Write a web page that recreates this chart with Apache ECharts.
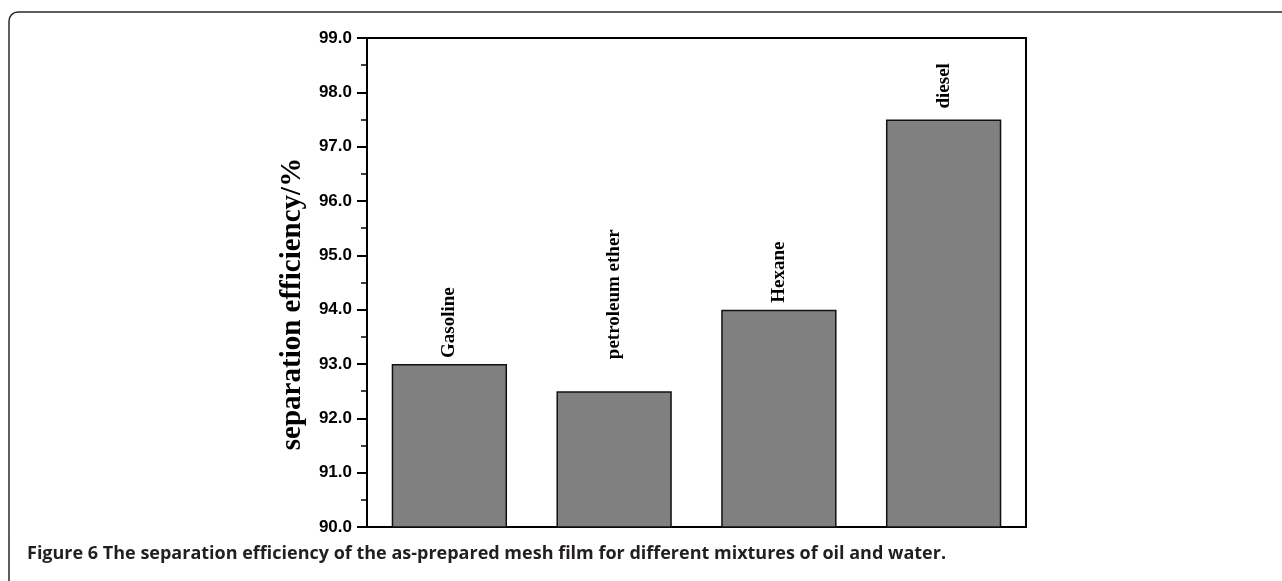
<!DOCTYPE html>
<html>
<head>
<meta charset="utf-8">
<script src="https://cdn.jsdelivr.net/npm/echarts@6/dist/echarts.min.js"></script>
<style>html,body{margin:0;padding:0;background:#fff}#c{width:1282px;height:581px}</style>
</head>
<body>
<div id="c"></div>
<script>
const categories = ['Gasoline', 'petroleum ether', 'Hexane', 'diesel'];
const efficiency = [93.0, 92.5, 94.0, 97.5];
const yMin = 90, yMax = 99, yStep = 1;
const yTitle = 'separation efficiency/%';
const captionBold = 'Figure 6';
const captionText = ' The separation efficiency of the as-prepared mesh film for different mixtures of oil and water.';
// label gaps above each bar (style, not data)
const labelGaps = [6, 32, 7, 11];

const chart = echarts.init(document.getElementById('c'));
chart.setOption({
  backgroundColor: '#fff',
  animation: false,
  grid: { left: 367, right: 256, top: 38, bottom: 54, show: true, borderColor: '#000', borderWidth: 2, backgroundColor: 'transparent' },
  xAxis: {
    type: 'category', data: categories,
    axisLine: { lineStyle: { color: '#000', width: 2 } },
    axisTick: { alignWithLabel: true, length: 10, lineStyle: { color: '#000', width: 2 } },
    axisLabel: { show: false },
    splitLine: { show: false }
  },
  yAxis: {
    type: 'value', min: yMin, max: yMax, interval: yStep,
    axisLine: { show: true, lineStyle: { color: '#000', width: 2 } },
    axisTick: { show: true, length: 10, lineStyle: { color: '#000', width: 2 } },
    minorTick: { show: true, splitNumber: 2, length: 6, lineStyle: { color: '#000', width: 1.5 } },
    axisLabel: { margin: 15, fontFamily: 'Liberation Sans, Arial', fontWeight: 'bold', fontSize: 17, color: '#000', formatter: v => v.toFixed(1) },
    splitLine: { show: false }
  },
  series: [{
    type: 'bar',
    data: efficiency.map((v, i) => ({ value: v, label: { distance: labelGaps[i] } })),
    barCategoryGap: '30%',
    itemStyle: { color: '#808080', borderColor: '#111', borderWidth: 1.5 },
    label: {
      show: true, position: 'top', rotate: 90, align: 'left', verticalAlign: 'middle',
      formatter: p => categories[p.dataIndex],
      fontFamily: 'Liberation Serif, Times New Roman', fontWeight: 'bold', fontSize: 19, color: '#000'
    }
  }],
  graphic: [
    { type: 'rect', shape: { x: 9, y: 12, width: 1320, height: 640, r: 9 }, style: { fill: 'none', stroke: '#2a2a2a', lineWidth: 1.5 }, z: 1 },
    { type: 'text', x: 293, y: 304, rotation: Math.PI / 2,
      style: { text: yTitle, font: 'bold 29px "Liberation Serif", "Times New Roman"', fill: '#000', align: 'center', verticalAlign: 'middle' } },
    { type: 'text', x: 27, y: 554,
      style: { text: '{b|' + captionBold + '}{r|' + captionText + '}', verticalAlign: 'middle',
        rich: { b: { font: 'bold 18px "Open Sans"', fill: '#231f20' }, r: { font: 'bold 18px "Open Sans"', fill: '#231f20' } } } }
  ]
});
</script>
</body>
</html>
